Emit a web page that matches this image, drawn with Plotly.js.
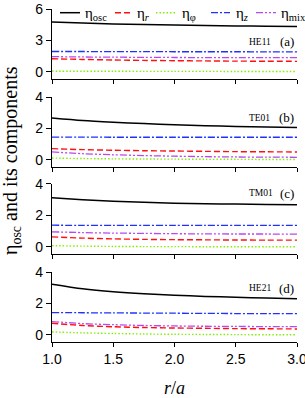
<!DOCTYPE html>
<html><head><meta charset="utf-8">
<script src="https://cdn.plot.ly/plotly-3.0.1.min.js"></script>
<style>html,body{margin:0;padding:0;background:#fff}</style>
</head><body><div id="chart" style="width:305px;height:398px"></div>
<script>
// x values (r/a)
const rA = [1.0, 1.25, 1.5, 1.75, 2.0, 2.25, 2.5, 2.75, 3.0];

// (a) HE11
const he11_osc = [4.76, 4.65, 4.57, 4.51, 4.46, 4.42, 4.38, 4.35, 4.32];
const he11_r   = [1.24, 1.17, 1.12, 1.08, 1.05, 1.03, 1.01, 1.00, 0.99];
const he11_phi = [0.05, 0.04, 0.04, 0.03, 0.03, 0.03, 0.02, 0.02, 0.02];
const he11_z   = [1.93, 1.93, 1.92, 1.92, 1.91, 1.91, 1.91, 1.90, 1.90];
const he11_mix = [1.44, 1.41, 1.39, 1.37, 1.36, 1.35, 1.35, 1.34, 1.34];

// (b) TE01
const te01_osc = [2.66, 2.50, 2.39, 2.30, 2.23, 2.17, 2.12, 2.08, 2.05];
const te01_r   = [0.70, 0.64, 0.60, 0.57, 0.55, 0.53, 0.51, 0.50, 0.49];
const te01_phi = [0.10, 0.07, 0.05, 0.04, 0.03, 0.02, 0.02, 0.01, 0.01];
const te01_z   = [1.44, 1.44, 1.43, 1.43, 1.43, 1.43, 1.43, 1.43, 1.43];
const te01_mix = [0.49, 0.38, 0.31, 0.26, 0.22, 0.19, 0.17, 0.16, 0.15];

// (c) TM01
const tm01_osc = [3.12, 3.00, 2.91, 2.84, 2.78, 2.74, 2.72, 2.70, 2.68];
const tm01_r   = [0.64, 0.56, 0.51, 0.48, 0.46, 0.45, 0.44, 0.43, 0.43];
const tm01_phi = [0.08, 0.05, 0.03, 0.02, 0.02, 0.01, 0.01, 0.01, 0.01];
const tm01_z   = [1.38, 1.37, 1.37, 1.37, 1.37, 1.37, 1.37, 1.37, 1.37];
const tm01_mix = [0.96, 0.91, 0.88, 0.86, 0.84, 0.83, 0.82, 0.82, 0.81];

// (d) HE21
const he21_osc = [3.22, 2.93, 2.74, 2.61, 2.52, 2.45, 2.39, 2.34, 2.30];
const he21_r   = [0.74, 0.60, 0.52, 0.47, 0.44, 0.42, 0.40, 0.39, 0.38];
const he21_phi = [0.19, 0.13, 0.09, 0.06, 0.04, 0.03, 0.02, 0.01, 0.01];
const he21_z   = [1.42, 1.41, 1.40, 1.39, 1.38, 1.37, 1.36, 1.36, 1.35];
const he21_mix = [0.85, 0.72, 0.65, 0.60, 0.57, 0.55, 0.54, 0.53, 0.53];

const modeNames = ['HE11', 'TE01', 'TM01', 'HE21'];
const panelTags = ['(a)', '(b)', '(c)', '(d)'];
const seriesNames = ['η<sub>osc</sub>', 'η<sub><i>r</i></sub>', 'η<sub>φ</sub>', 'η<sub><i>z</i></sub>', 'η<sub>mix</sub>'];
const xTicks = [1.0, 1.5, 2.0, 2.5, 3.0];
const xTickText = ['1.0', '1.5', '2.0', '2.5', '3.0'];

const panels = [
  [he11_osc, he11_r, he11_phi, he11_z, he11_mix],
  [te01_osc, te01_r, te01_phi, te01_z, te01_mix],
  [tm01_osc, tm01_r, tm01_phi, tm01_z, tm01_mix],
  [he21_osc, he21_r, he21_phi, he21_z, he21_mix]
];

const styles = [
  {color:'#000000', width:1.5, dash:'solid'},
  {color:'#FF1010', width:1.4, dash:'6px,3px'},
  {color:'#80F000', width:1.4, dash:'1.5px,2px'},
  {color:'#2030FF', width:1.3, dash:'7px,2px,2px,2px'},
  {color:'#B848F0', width:1.3, dash:'7px,2px,2px,2px,2px,2px'}
];

const domains = [[0.7898, 1.0], [0.5265, 0.7357], [0.2643, 0.4745], [0.0, 0.2102]];
const yRanges = [[-0.7, 6], [-0.45, 4], [-0.45, 4], [-0.45, 4]];
const yDticks = [3, 2, 2, 2];
const tagY = [2.87, 2.69, 3.4, 2.97];

const traces = [];
panels.forEach((series, p) => {
  const xa = p === 0 ? 'x' : 'x' + (p + 1);
  const ya = p === 0 ? 'y' : 'y' + (p + 1);
  series.forEach((vals, s) => {
    traces.push({
      x: rA, y: vals, xaxis: xa, yaxis: ya, type: 'scatter', mode: 'lines',
      name: seriesNames[s], showlegend: false,
      line: Object.assign({shape: 'spline', smoothing: 0.8}, styles[s])
    });
  });
});

const tickFont = {family: 'Liberation Sans, Arial, sans-serif', size: 13, color: '#000'};
const layout = {
  width: 305, height: 398,
  margin: {l: 52, r: 8, t: 9, b: 56},
  paper_bgcolor: '#fff', plot_bgcolor: '#fff',
  showlegend: false,
  font: tickFont,
  annotations: [], shapes: []
};

for (let p = 0; p < 4; p++) {
  const sfx = p === 0 ? '' : String(p + 1);
  layout['xaxis' + sfx] = {
    anchor: 'y' + sfx, domain: [0, 1], range: [1, 3],
    showgrid: false, zeroline: false, showline: true, linecolor: '#000', linewidth: 1.2,
    ticks: 'outside', ticklen: 4, tickwidth: 1, tickcolor: '#000',
    tickvals: xTicks, ticktext: xTickText, showticklabels: p === 3,
    ticklabeloverflow: 'allow',
    tickfont: {family: 'Liberation Sans, Arial, sans-serif', size: 14, color: '#000'},
    matches: p === 0 ? undefined : 'x'
  };
  layout['yaxis' + sfx] = {
    anchor: 'x' + sfx, domain: domains[p], range: yRanges[p], dtick: yDticks[p], tick0: 0,
    showgrid: false, zeroline: false, showline: true, linecolor: '#000', linewidth: 1.2,
    ticks: 'outside', ticklen: 5, tickwidth: 1, tickcolor: '#000',
    tickfont: {family: 'Liberation Sans, Arial, sans-serif', size: 14, color: '#000'}
  };
  layout.annotations.push({
    xref: 'x' + sfx, yref: 'y' + sfx, x: 2.59, y: tagY[p], xanchor: 'left', yanchor: 'middle',
    text: modeNames[p], showarrow: false,
    font: {family: 'Liberation Serif, Times New Roman, serif', size: 9.5, color: '#000'}
  });
  layout.annotations.push({
    xref: 'x' + sfx, yref: 'y' + sfx, x: 2.915, y: tagY[p], xanchor: 'center', yanchor: 'middle',
    text: panelTags[p], showarrow: false,
    font: {family: 'Liberation Serif, Times New Roman, serif', size: 13, color: '#000'}
  });
}

layout.xaxis4.title = {
  text: '<i>r</i>/<i>a</i>', standoff: 27,
  font: {family: 'Liberation Serif, Times New Roman, serif', size: 18, color: '#000'}
};

// y title (shared across panels)
layout.annotations.push({
  xref: 'paper', yref: 'paper', x: -0.165, y: 0.545, xanchor: 'center', yanchor: 'middle',
  textangle: -90, showarrow: false,
  text: 'η<sub>osc</sub> and its components',
  font: {family: 'Liberation Serif, Times New Roman, serif', size: 20, color: '#000'}
});

// legend drawn across top of panel (a)
const legLineX = [[60, 80], [115, 133], [156, 177], [211, 230], [256, 276]];
const legTextX = [83, 135, 180, 234, 279];
const legY = 12.7;
const toPX = px => (px - 52) / 245;
const toPY = py => (342 - py) / 333;
for (let s = 0; s < 5; s++) {
  layout.shapes.push({
    type: 'line', xref: 'paper', yref: 'paper',
    x0: toPX(legLineX[s][0]), x1: toPX(legLineX[s][1]), y0: toPY(legY), y1: toPY(legY),
    line: styles[s]
  });
  layout.annotations.push({
    xref: 'paper', yref: 'paper', x: toPX(legTextX[s]), y: toPY(legY + 1), xanchor: 'left', yanchor: 'middle',
    text: seriesNames[s], showarrow: false,
    font: {family: 'Liberation Serif, Times New Roman, serif', size: 15, color: '#000'}
  });
}

Plotly.newPlot('chart', traces, layout, {displayModeBar: false, staticPlot: true});
</script></body></html>
